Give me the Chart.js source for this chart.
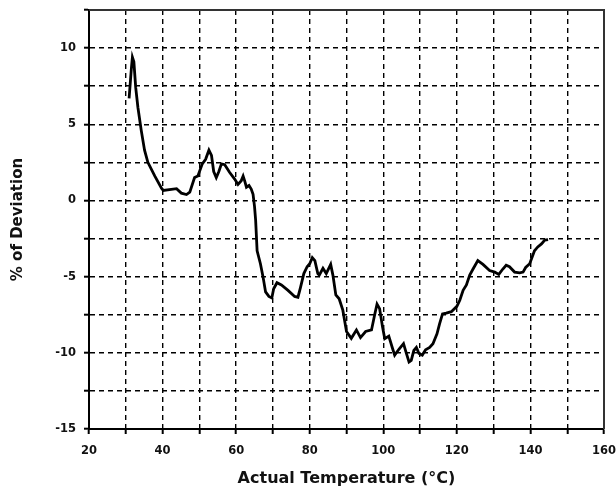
<!DOCTYPE html>
<html>
<head>
<meta charset="utf-8">
<script src="https://cdn.jsdelivr.net/npm/chart.js@4"></script>
<style>
  html, body { margin: 0; padding: 0; background: #fff; }
  #wrap { width: 616px; height: 488px; }
</style>
</head>
<body>
<div id="wrap"><canvas id="devChart" width="616" height="488"></canvas></div>
<script>
// temperature (°C)
const temps = [30.9, 31.5, 31.8, 32.2, 32.7, 33.3, 34.2, 35.1, 36.0, 37.9, 39.7, 40.2, 43.8, 45.1, 46.5, 47.4,
    48.7, 49.6, 50.8, 51.7, 52.6, 53.3, 53.9, 54.6, 55.3, 56.0, 56.9, 58.2, 59.6, 60.5, 61.4, 61.9, 62.3,
    62.8, 63.5, 64.1, 64.6, 65.0, 65.3, 65.7, 66.6, 67.3, 68.0, 68.9, 69.7, 70.2, 71.1, 72.3, 74.1, 75.9,
    76.8, 77.5, 78.4, 79.3, 80.0, 80.7, 81.4, 82.2, 82.6, 83.6, 84.5, 85.7, 86.3, 87.1, 88.0, 89.0, 90.0,
    91.3, 92.7, 93.8, 95.2, 96.8, 97.7, 98.3, 99.0, 99.8, 100.4, 101.5, 102.5, 103.1, 104.3, 105.5, 106.3,
    107.0, 107.6, 108.3, 109.0, 109.7, 110.6, 111.5, 112.6, 113.5, 114.6, 115.3, 116.1, 117.1, 118.5,
    120.0, 120.8, 121.7, 122.6, 123.5, 124.4, 125.7, 127.1, 128.9, 130.3, 131.4, 132.5, 133.4, 134.3,
    135.7, 137.1, 138.0, 138.7, 139.8, 140.5, 141.1, 142.0, 143.0, 143.9, 144.8];
// % of deviation at each temperature
const deviation = [6.7, 8.6, 9.4, 9.1, 7.4, 6.1, 4.6, 3.3, 2.5, 1.6, 0.8, 0.66, 0.77, 0.48, 0.39, 0.55,
    1.5, 1.6, 2.4, 2.7, 3.3, 2.95, 1.9, 1.5, 1.9, 2.4, 2.35, 1.85, 1.4, 1.05, 1.3, 1.6, 1.3,
    0.87, 0.98, 0.75, 0.4, -0.4, -1.3, -3.3, -4.15, -5.0, -6.0, -6.3, -6.4, -5.8, -5.4, -5.55, -5.9, -6.3,
    -6.35, -5.7, -4.8, -4.35, -4.15, -3.75, -3.95, -4.8, -4.9, -4.45, -4.8, -4.2, -4.9, -6.2, -6.45, -7.2, -8.6,
    -9.05, -8.5, -9.0, -8.6, -8.5, -7.45, -6.8, -7.1, -8.3, -9.07, -8.9, -9.7, -10.15, -9.75, -9.4, -10.05,
    -10.6, -10.5, -9.85, -9.65, -10.05, -10.15, -9.8, -9.65, -9.4, -8.75, -8.1, -7.45, -7.4, -7.3,
    -6.95, -6.55, -5.9, -5.55, -4.9, -4.5, -3.95, -4.2, -4.6, -4.7, -4.85, -4.5, -4.25, -4.35,
    -4.7, -4.75, -4.7, -4.4, -4.15, -3.7, -3.3, -3.05, -2.85, -2.6, -2.57];

const xTicks = [20, 40, 60, 80, 100, 120, 140, 160];
const yTicks = [-15, -10, -5, 0, 5, 10];

const points = temps.map((t, i) => ({ x: t, y: deviation[i] }));

const fam = 'DejaVu Sans, Verdana, sans-serif';
const tickFont = { family: fam, size: 11.5, weight: 'bold' };

const gridOpts = {
    color: '#000',
    lineWidth: 1.4,
    tickLength: 5,
    tickBorderDash: [],
    tickColor: '#000',
    tickWidth: 2
};

// dark frame on top and right side of the plot
const frame = {
    id: 'frame',
    afterDraw(chart) {
        const { ctx, chartArea: a } = chart;
        ctx.save();
        ctx.strokeStyle = '#333';
        ctx.lineWidth = 2;
        ctx.beginPath();
        ctx.moveTo(a.left, a.top);
        ctx.lineTo(a.right, a.top);
        ctx.lineTo(a.right, a.bottom);
        ctx.stroke();
        ctx.restore();
    }
};

new Chart(document.getElementById('devChart'), {
    type: 'line',
    data: {
        datasets: [{
            data: points,
            borderColor: '#000',
            borderWidth: 2.8,
            pointRadius: 0,
            tension: 0,
            fill: false
        }]
    },
    options: {
        responsive: false,
        animation: false,
        layout: { padding: { top: 10, right: 12, left: 0, bottom: 0 } },
        plugins: { legend: { display: false }, tooltip: { enabled: false } },
        scales: {
            x: {
                type: 'linear',
                min: 20,
                max: 160,
                afterFit(s) { s.height = 59; s.paddingLeft = 0; s.paddingRight = 0; },
                ticks: {
                    stepSize: 10,
                    color: '#111',
                    font: tickFont,
                    padding: 10,
                    maxRotation: 0,
                    autoSkip: false,
                    callback: v => xTicks.includes(v) ? String(v) : ''
                },
                grid: gridOpts,
                border: { color: '#000', width: 2, dash: [5, 4] },
                title: {
                    display: true,
                    text: 'Actual Temperature (°C)',
                    color: '#111',
                    font: { family: fam, size: 16, weight: 'bold' },
                    padding: { top: 0, bottom: 0 }
                }
            },
            y: {
                type: 'linear',
                min: -15,
                max: 12.5,
                afterFit(s) { s.width = 89; s.paddingTop = 0; s.paddingBottom = 0; },
                ticks: {
                    stepSize: 2.5,
                    color: '#111',
                    font: tickFont,
                    padding: 8,
                    autoSkip: false,
                    callback: v => yTicks.includes(v) ? String(v) : ''
                },
                grid: gridOpts,
                border: { color: '#000', width: 2, dash: [5, 4] },
                title: {
                    display: true,
                    text: '% of Deviation',
                    color: '#111',
                    font: { family: fam, size: 15, weight: 'bold' },
                    padding: { top: 9, bottom: 0 }
                }
            }
        }
    },
    plugins: [frame]
});
</script>
</body>
</html>
